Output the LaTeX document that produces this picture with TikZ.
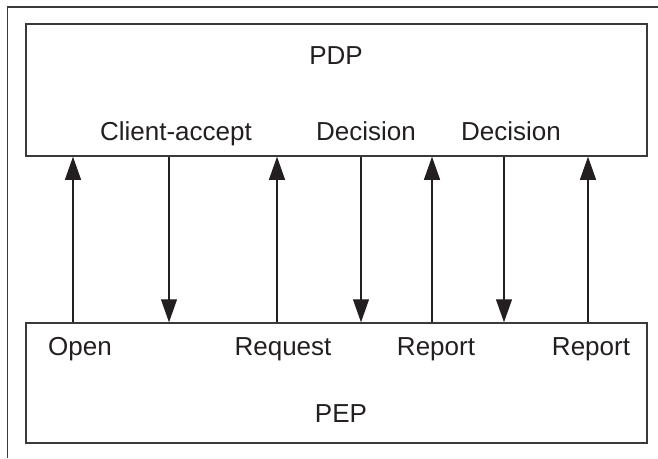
\documentclass[tikz,border=0pt]{standalone}
\usepackage{fontspec}
\setmainfont{Liberation Sans}
\usetikzlibrary{arrows.meta}
\definecolor{ink}{HTML}{231F20}
\definecolor{rule}{HTML}{3A3A3A}
\begin{document}
\begin{tikzpicture}[x=1pt,y=-1pt,
  every node/.style={font=\fontsize{26}{30}\selectfont, text=ink, inner sep=0pt},
  box/.style={draw=rule, line width=1.5pt, minimum width=621pt, inner sep=0pt},
  lbl/.style={anchor=base},
  msg/.style={draw=ink, line width=1.1pt, -{Triangle[length=23pt,width=16pt]}},
  frameline/.style={draw=rule, line width=1.8pt}]
  \useasboundingbox (0,0) rectangle (658,458);

  % page frame (top and left edges only)
  \coordinate (fA) at (7.5,458);
  \coordinate (fB) at (7.5,7);
  \coordinate (fC) at (658,7);
  \draw[frameline] (fA) -- (fB) -- (fC);

  % the two entities
  \node[box, minimum height=132pt] (pdp) at (336.5,90) {};
  \node[box, minimum height=120pt] (pep) at (336.5,383) {};

  \node[lbl] (pdpname) at (336,64) {PDP};
  \node[lbl] (pepname) at (341,422) {PEP};

  % labels inside PDP
  \node[lbl] (lca)  at (176,140) {Client-accept};
  \node[lbl] (ldec1) at (366,140) {Decision};
  \node[lbl] (ldec2) at (511,140) {Decision};

  % labels inside PEP
  \node[lbl] (lopen) at (80,355) {Open};
  \node[lbl] (lreq)  at (283,355) {Request};
  \node[lbl] (lrep1) at (436,355) {Report};
  \node[lbl] (lrep2) at (591,355) {Report};

  % message columns
  \coordinate (c1) at (73,0);
  \coordinate (c2) at (169,0);
  \coordinate (c3) at (277,0);
  \coordinate (c4) at (361,0);
  \coordinate (c5) at (432,0);
  \coordinate (c6) at (504,0);
  \coordinate (c7) at (588,0);

  % PEP -> PDP
  \draw[msg] (c1 |- pep.north) -- (c1 |- pdp.south);
  \draw[msg] (c3 |- pep.north) -- (c3 |- pdp.south);
  \draw[msg] (c5 |- pep.north) -- (c5 |- pdp.south);
  \draw[msg] (c7 |- pep.north) -- (c7 |- pdp.south);
  % PDP -> PEP
  \draw[msg] (c2 |- pdp.south) -- (c2 |- pep.north);
  \draw[msg] (c4 |- pdp.south) -- (c4 |- pep.north);
  \draw[msg] (c6 |- pdp.south) -- (c6 |- pep.north);
\end{tikzpicture}
\end{document}
